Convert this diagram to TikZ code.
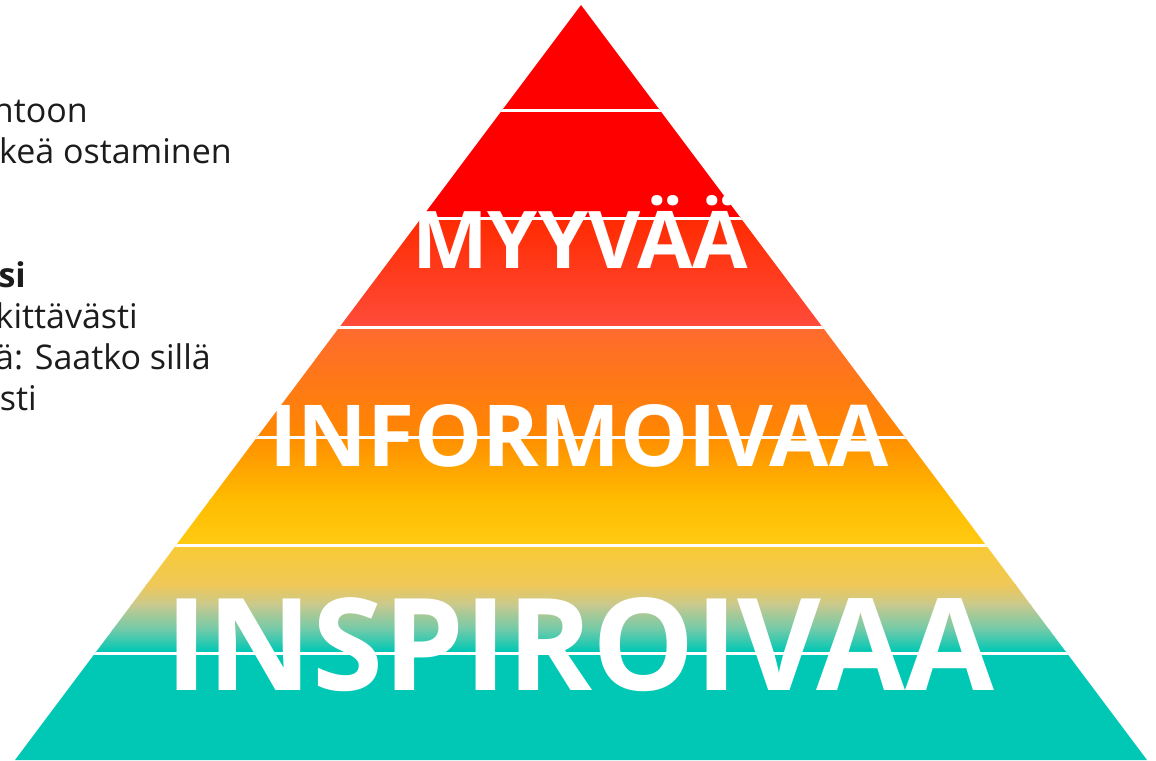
\documentclass[tikz,border=0pt]{standalone}
\usepackage{fontspec}
\setmainfont{Open Sans}
\usepackage{graphicx}
\definecolor{cRed}{HTML}{FF0000}
\definecolor{cA1}{HTML}{FF2A00}
\definecolor{cA2}{HTML}{FF4C3A}
\definecolor{cB1}{HTML}{FF6A2E}
\definecolor{cB2}{HTML}{FF8700}
\definecolor{cC1}{HTML}{FF8E00}
\definecolor{cC2}{HTML}{FFBC00}
\definecolor{cC3}{HTML}{FFCB12}
\definecolor{cD1}{HTML}{F9CA34}
\definecolor{cD2}{HTML}{EFC858}
\definecolor{cD3}{HTML}{C8C98E}
\definecolor{cD4}{HTML}{6ECAAA}
\definecolor{cTeal}{HTML}{00C8B4}
\definecolor{txtgray}{HTML}{1C1C1C}
\tikzset{
  sidetxt/.style={text=txtgray, inner sep=0pt, font=\fontsize{34}{41}\selectfont},
  bigtxt/.style={text=white, inner sep=0pt, font=\bfseries\fontsize{80}{90}\selectfont},
  sep/.style={draw=white, line width=3pt},
}
\newcommand{\bandshade}[4]{\shade[top color=#3, bottom color=#4] (0,-#1+0.4) rectangle (1156,-#2-0.4);}
\begin{document}
\begin{tikzpicture}[x=1pt,y=1pt]
\useasboundingbox (0,0) rectangle (1156,-760);
\coordinate (apex) at (581,-5);
\coordinate (bl) at (15,-760);
\coordinate (br) at (1147,-760);
\begin{scope}
  \clip (apex) -- (br) -- (bl) -- cycle;
  \fill[cRed] (0,0) rectangle (1156,-218);
  \bandshade{218}{327}{cA1}{cA2}
  \bandshade{327}{437}{cB1}{cB2}
  \bandshade{437}{500}{cC1}{cC2}
  \bandshade{500}{545}{cC2}{cC3}
  \bandshade{545}{585}{cD1}{cD2}
  \bandshade{585}{605}{cD2}{cD3}
  \bandshade{605}{630}{cD3}{cD4}
  \bandshade{630}{651}{cD4}{cTeal}
  \fill[cTeal] (0,-651) rectangle (1156,-761);
  \foreach \yy in {110,218,327,437,545,653}
    \draw[sep] (0,-\yy) -- (1156,-\yy);
\end{scope}
\node[bigtxt, anchor=base west] (myy) at (412,-268) {\resizebox{336pt}{73pt}{MYYVÄÄ}};
\node[bigtxt, anchor=base west] (inf) at (269,-466) {\resizebox{619pt}{62pt}{INFORMOIVAA}};
\node[bigtxt, anchor=base west] (ins) at (165,-690) {\resizebox{829pt}{93pt}{INSPIROIVAA}};
\node[sidetxt, anchor=base east] (l1) at (88,-122) {ntoon};
\node[sidetxt, anchor=base east] (l2) at (232,-163) {keä ostaminen};
\node[sidetxt, anchor=base east, font=\bfseries\fontsize{34}{41}\selectfont] (l3) at (26,-287) {si};
\node[sidetxt, anchor=base east] (l4) at (138,-328) {kittävästi};
\node[sidetxt, anchor=base east] (l5) at (211,-369) {ä: Saatko sillä};
\node[sidetxt, anchor=base east] (l6) at (37,-410) {sti};
\end{tikzpicture}
\end{document}
